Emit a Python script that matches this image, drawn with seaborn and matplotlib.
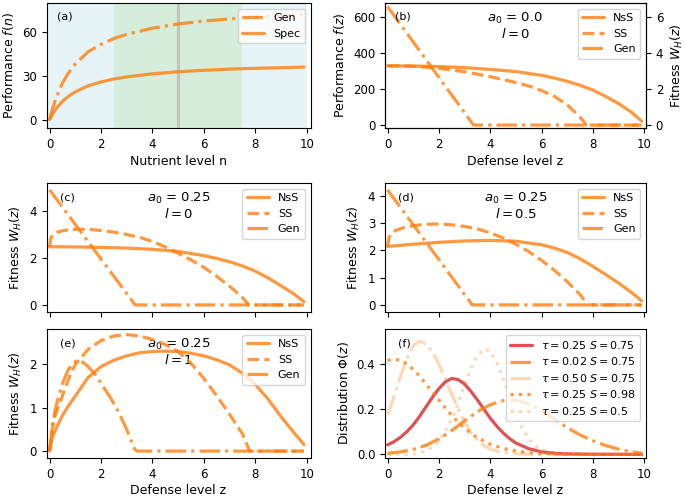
import numpy as np
import pandas as pd
import matplotlib
matplotlib.use("Agg")
import matplotlib.pyplot as plt
import seaborn as sns

# ---------------- data ----------------
# (a) performance vs nutrient level
n_a = [0, 0.1, 0.25, 0.5, 0.75, 1, 1.5, 2, 2.5, 3, 4, 5, 6, 7, 8, 9, 9.9]
gen_a = [0, 6.6, 14.8, 25.0, 32.4, 38.1, 46.5, 51.6, 55.6, 58.5, 62.7, 65.6, 67.6, 69.1, 70.3, 71.2, 72.0]
spec_a = [0, 3.3, 7.4, 12.5, 16.2, 19.0, 23.2, 25.8, 27.8, 29.3, 31.4, 32.8, 33.8, 34.6, 35.2, 35.6, 36.0]

# (b) a0 = 0.0, l = 0  (performance scale)
z_b_nss = [0, 1, 2, 3, 4, 5, 6, 6.5, 7, 7.5, 8, 8.5, 9, 9.5, 9.9]
nss_b = [330, 329, 326, 320, 310, 298, 277, 262, 244, 222, 195, 160, 120, 72, 22]
z_b_ss = [0, 1, 2, 3, 4, 5, 5.5, 6, 6.5, 7, 7.5, 7.75, 9.9]
ss_b = [330, 328, 316, 297, 270, 237, 218, 192, 160, 113, 45, 0, 0]
z_b_gen = [0, 3.35, 9.9]
gen_b = [660, 0, 0]

# (c) a0 = 0.25, l = 0
z_c_nss = [0, 1, 2, 3, 4, 5, 6, 6.5, 7, 7.5, 8, 8.5, 9, 9.5, 9.9]
nss_c = [2.48, 2.47, 2.45, 2.42, 2.37, 2.28, 2.1, 1.98, 1.84, 1.66, 1.44, 1.15, 0.82, 0.47, 0.14]
z_c_ss = [0, 0.05, 0.15, 0.3, 0.6, 1, 1.5, 2, 2.5, 3, 3.5, 4, 4.5, 5, 5.5, 6, 6.5, 7, 7.5, 7.75, 9.9]
ss_c = [2.48, 2.85, 3.02, 3.1, 3.18, 3.22, 3.22, 3.17, 3.1, 3.0, 2.88, 2.7, 2.47, 2.2, 1.92, 1.6, 1.22, 0.8, 0.32, 0, 0]
z_c_gen = [0, 3.33, 9.9]
gen_c = [4.9, 0, 0]

# (d) a0 = 0.25, l = 0.5
z_d_nss = [0, 1, 2, 3, 4, 5, 6, 6.5, 7, 7.5, 8, 8.5, 9, 9.5, 9.9]
nss_d = [2.14, 2.22, 2.29, 2.34, 2.36, 2.33, 2.2, 2.08, 1.92, 1.69, 1.41, 1.11, 0.8, 0.46, 0.15]
z_d_ss = [0, 0.05, 0.15, 0.3, 0.6, 1, 1.5, 2, 2.5, 3, 3.5, 4, 4.5, 5, 5.5, 6, 6.5, 7, 7.5, 7.8, 9.9]
ss_d = [2.14, 2.45, 2.62, 2.72, 2.82, 2.9, 2.95, 2.96, 2.93, 2.87, 2.78, 2.64, 2.45, 2.22, 1.95, 1.63, 1.27, 0.85, 0.38, 0, 0]
z_d_gen = [0, 3.3, 9.9]
gen_d = [4.21, 0, 0]

# (e) a0 = 0.25, l = 1
z_e_nss = [0, 0.1, 0.25, 0.5, 0.75, 1, 1.5, 2, 2.5, 3, 3.5, 4, 4.5, 5, 5.5, 6, 6.5, 7, 7.5, 8, 8.5, 9, 9.5, 9.9]
nss_e = [0, 0.3, 0.52, 0.82, 1.06, 1.27, 1.7, 1.95, 2.1, 2.2, 2.27, 2.3, 2.31, 2.3, 2.26, 2.2, 2.11, 1.99, 1.8, 1.54, 1.2, 0.8, 0.43, 0.15]
z_e_ss = [0, 0.1, 0.2, 0.4, 0.6, 0.8, 1.0, 1.5, 2, 2.5, 3, 3.5, 4, 4.5, 5, 5.5, 6, 6.5, 7, 7.5, 7.78, 9.9]
ss_e = [0, 0.5, 0.8, 1.1, 1.45, 1.75, 2.0, 2.35, 2.55, 2.66, 2.69, 2.66, 2.58, 2.46, 2.3, 2.03, 1.68, 1.28, 0.85, 0.4, 0, 0]
z_e_gen = [0, 0.1, 0.2, 0.3, 0.5, 0.7, 0.9, 1.1, 1.3, 1.5, 1.8, 2.1, 2.4, 2.7, 3.0, 3.3, 3.4, 9.9]
gen_e = [0, 0.55, 0.9, 1.15, 1.55, 1.85, 2.03, 2.1, 2.05, 1.95, 1.75, 1.48, 1.2, 0.88, 0.5, 0.05, 0, 0]

# (f) distributions
z_f1 = [0, 0.25, 0.5, 0.75, 1, 1.25, 1.5, 1.75, 2, 2.25, 2.5, 2.75, 3, 3.25, 3.5, 3.75, 4,
        4.25, 4.5, 4.75, 5, 5.5, 6, 6.5, 7, 8, 9.9]
phi_f1 = [0.042, 0.056, 0.075, 0.1, 0.13, 0.168, 0.21, 0.252, 0.29, 0.32, 0.335, 0.33, 0.31, 0.278,
          0.24, 0.2, 0.16, 0.125, 0.095, 0.07, 0.05, 0.025, 0.011, 0.005, 0.002, 0.0005, 0]
z_f2 = [0, 0.5, 1, 1.5, 2, 2.5, 3, 3.5, 4, 4.5, 4.75, 5, 5.5, 6, 6.5, 7, 7.5, 8, 8.5, 9, 9.5, 9.9]
phi_f2 = [0.005, 0.011, 0.022, 0.04, 0.068, 0.105, 0.148, 0.188, 0.219, 0.237, 0.241, 0.239, 0.222,
          0.192, 0.155, 0.118, 0.086, 0.06, 0.039, 0.023, 0.012, 0.006]
z_f3 = [0, 0.25, 0.5, 0.75, 1, 1.25, 1.5, 1.75, 2, 2.25, 2.5, 2.75, 3, 3.25, 3.5, 3.75, 4, 4.5,
        5, 5.5, 6, 9.9]
phi_f3 = [0.176, 0.254, 0.342, 0.42, 0.479, 0.5, 0.487, 0.452, 0.398, 0.333, 0.265, 0.2, 0.144,
          0.098, 0.064, 0.04, 0.023, 0.007, 0.003, 0.001, 0, 0]
z_f4 = [0, 0.25, 0.5, 0.75, 1, 1.25, 1.5, 1.75, 2, 2.25, 2.5, 2.75, 3, 3.5, 4, 4.5, 5, 5.5, 6, 7, 9.9]
phi_f4 = [0.415, 0.42, 0.415, 0.4, 0.375, 0.345, 0.31, 0.275, 0.24, 0.205, 0.172, 0.142, 0.115,
          0.073, 0.045, 0.026, 0.015, 0.008, 0.004, 0.001, 0]
z_f5 = [0, 1, 1.5, 2, 2.5, 2.75, 3, 3.25, 3.5, 3.8, 4, 4.25, 4.5, 4.75, 5, 5.25, 5.5, 5.75, 6,
        6.5, 7, 9.9]
phi_f5 = [0, 0.001, 0.014, 0.055, 0.152, 0.225, 0.305, 0.381, 0.438, 0.465, 0.453, 0.407, 0.336,
          0.256, 0.18, 0.116, 0.069, 0.038, 0.019, 0.004, 0.001, 0]
labels_f = [r"$\tau = 0.25$ $S = 0.75$", r"$\tau = 0.02$ $S = 0.75$", r"$\tau = 0.50$ $S = 0.75$",
            r"$\tau = 0.25$ $S = 0.98$", r"$\tau = 0.25$ $S = 0.5$"]

x_ticks = [0, 2, 4, 6, 8, 10]

# ---------------- style ----------------
sns.set_style("ticks")
plt.rcParams["font.family"] = ["DejaVu Sans"]
plt.rcParams.update({
    "font.size": 8.5, "axes.labelsize": 9, "xtick.labelsize": 8.5, "ytick.labelsize": 8.5,
    "legend.fontsize": 8, "axes.edgecolor": "black", "text.color": "black",
    "axes.labelcolor": "black", "xtick.color": "black", "ytick.color": "black",
    "xtick.direction": "out", "ytick.direction": "out",
    "xtick.major.size": 3.5, "ytick.major.size": 3.5,
    "axes.linewidth": 0.8,
})

ORANGE = "tab:orange"
RED = "tab:red"
LW = 2.3

fig = plt.figure(figsize=(6.85, 4.97), dpi=100)
W, H = 685.0, 497.0

def add(l, r, t, b):
    return fig.add_axes([l / W, 1 - b / H, (r - l) / W, (b - t) / H])

ax_a = add(46.5, 310.5, 3, 128.3)
ax_b = add(385, 646, 3, 128.3)
ax_c = add(46.5, 310.5, 183, 312)
ax_d = add(385, 646, 183, 312)
ax_e = add(46.5, 310.5, 329, 458)
ax_f = add(385, 646, 329, 458)

def line(ax, x, y, ls, label, color=ORANGE, alpha=0.8):
    sns.lineplot(x=x, y=y, ax=ax, color=color, linestyle=ls, lw=LW, alpha=alpha,
                 label=label, sort=False, estimator=None)

# (a)
ax_a.axvspan(-1, 2.5, color="#e6f4f8", lw=0)
ax_a.axvspan(2.5, 7.5, color="#d5edda", lw=0)
ax_a.axvspan(7.5, 10, color="#e6f4f8", lw=0)
ax_a.axvline(5, color="#c5c3b6", lw=2.2)
line(ax_a, n_a, gen_a, "-.", "Gen")
line(ax_a, n_a, spec_a, "-", "Spec")
ax_a.set_ylim(-6, 80)
ax_a.set_yticks([0, 30, 60])
ax_a.set_xlabel("Nutrient level n", labelpad=3)
ax_a.set_ylabel(r"Performance $f(n)$")
ax_a.legend(loc="upper right")

def fitness_panel(ax, curves):
    line(ax, curves[0][0], curves[0][1], "-", "NsS")
    line(ax, curves[1][0], curves[1][1], "--", "SS")
    line(ax, curves[2][0], curves[2][1], "-.", "Gen")
    ax.legend(loc="upper right")

# (b)
fitness_panel(ax_b, [(z_b_nss, nss_b), (z_b_ss, ss_b), (z_b_gen, gen_b)])
ax_b.set_ylim(-18, 680)
ax_b.set_yticks([0, 200, 400, 600])
ax_b.set_ylabel(r"Performance $f(z)$")
ax_b.set_xlabel("Defense level z", labelpad=3)
ax_b2 = ax_b.twinx()
ax_b2.set_ylim(-0.18, 6.8)
ax_b2.set_yticks([0, 2, 4, 6])
ax_b2.set_ylabel(r"Fitness $W_H(z)$")

# (c)
fitness_panel(ax_c, [(z_c_nss, nss_c), (z_c_ss, ss_c), (z_c_gen, gen_c)])
ax_c.set_ylim(-0.3, 5.19)
ax_c.set_yticks([0, 2, 4])
ax_c.set_ylabel(r"Fitness $W_H(z)$")

# (d)
fitness_panel(ax_d, [(z_d_nss, nss_d), (z_d_ss, ss_d), (z_d_gen, gen_d)])
ax_d.set_ylim(-0.26, 4.46)
ax_d.set_yticks([0, 1, 2, 3, 4])
ax_d.set_ylabel(r"Fitness $W_H(z)$")

# (e)
fitness_panel(ax_e, [(z_e_nss, nss_e), (z_e_ss, ss_e), (z_e_gen, gen_e)])
ax_e.set_ylim(-0.16, 2.82)
ax_e.set_yticks([0, 1, 2])
ax_e.set_ylabel(r"Fitness $W_H(z)$")
ax_e.set_xlabel("Defense level z", labelpad=2.5)

# (f)
line(ax_f, z_f1, phi_f1, "-", labels_f[0], color=RED, alpha=0.8)
line(ax_f, z_f2, phi_f2, "-.", labels_f[1], alpha=0.8)
line(ax_f, z_f3, phi_f3, "-.", labels_f[2], alpha=0.3)
line(ax_f, z_f4, phi_f4, ":", labels_f[3], alpha=0.8)
line(ax_f, z_f5, phi_f5, ":", labels_f[4], alpha=0.3)
ax_f.set_ylim(-0.016, 0.553)
ax_f.set_yticks([0.0, 0.2, 0.4])
ax_f.set_ylabel(r"Distribution $\Phi(z)$")
ax_f.set_xlabel("Defense level z", labelpad=2.5)
ax_f.legend(loc="upper right", labelspacing=0.4)

for ax in [ax_a, ax_c, ax_e]:
    ax.set_xlim(-0.12, 10.15)
for ax in [ax_b, ax_d, ax_f]:
    ax.set_xlim(-0.1, 10.07)
for ax in [ax_a, ax_b, ax_c, ax_d, ax_e, ax_f]:
    ax.set_xticks(x_ticks)
for ax in [ax_c, ax_d]:
    ax.tick_params(labelbottom=False)
    ax.set_xlabel("")

# panel letters and parameter annotations
for ax, letter, lx in [(ax_a, "(a)", 0.04), (ax_b, "(b)", 0.04), (ax_c, "(c)", 0.05),
                       (ax_d, "(d)", 0.05), (ax_e, "(e)", 0.05), (ax_f, "(f)", 0.05)]:
    ax.text(lx, 0.93, letter, transform=ax.transAxes, ha="left", va="top", fontsize=8)

params = [(ax_b, "0.0", "0"), (ax_c, "0.25", "0"), (ax_d, "0.25", "0.5"), (ax_e, "0.25", "1")]
for ax, a0, l in params:
    ax.text(0.5, 0.94, "$a_0$ = " + a0 + "\n" + "$l = " + l + "$", transform=ax.transAxes,
            ha="center", va="top", fontsize=9.5, linespacing=1.1, zorder=1.5)

fig.savefig("out.png", dpi=100)
